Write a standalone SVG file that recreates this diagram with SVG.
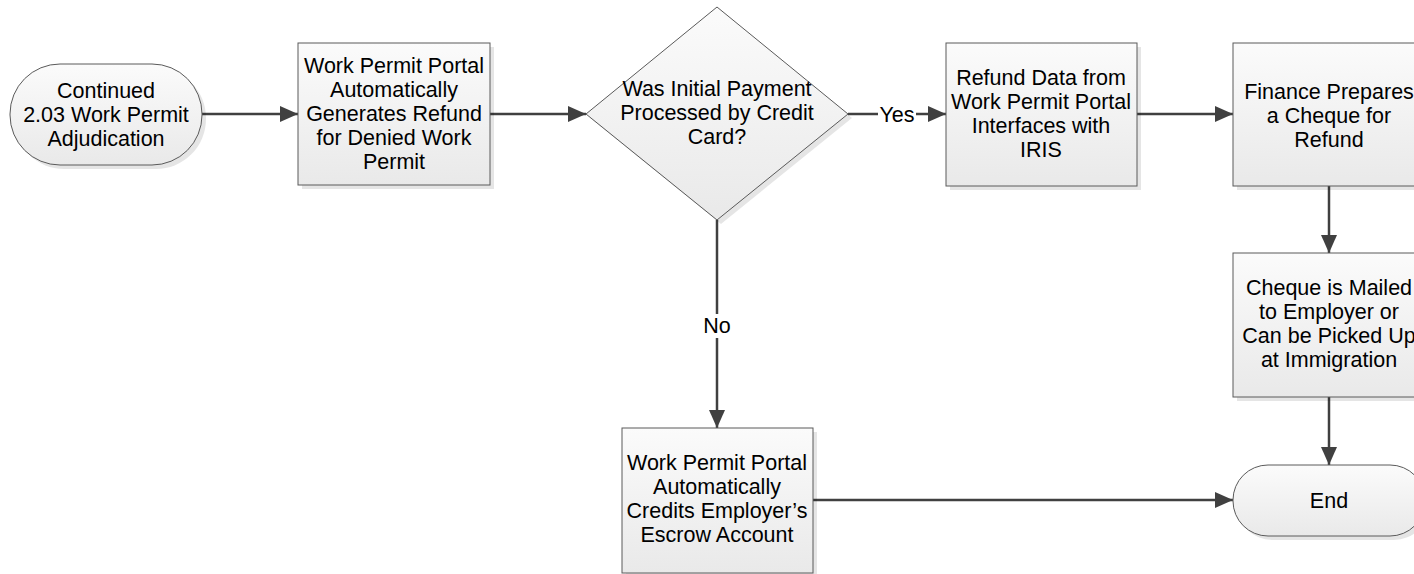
<svg xmlns="http://www.w3.org/2000/svg" width="1414" height="574" viewBox="0 0 1414 574">
<style>
.shape{stroke:#5a5a5a;stroke-width:1;fill:url(#g)}
.shadow{fill:#000;opacity:0.1}
.t{font-family:"Liberation Sans",Arial,sans-serif;font-size:21.5px;fill:#000;text-anchor:middle}
.e{stroke:#404040;stroke-width:2.5;fill:none}
.lbl{fill:#fff}
</style>
<defs>
<linearGradient id="g" x1="0" y1="0" x2="0" y2="1">
<stop offset="0" stop-color="#fbfbfb"/>
<stop offset="1" stop-color="#e9e9e9"/>
</linearGradient>
<marker id="a" viewBox="0 0 18 16" refX="18" refY="8" markerWidth="18" markerHeight="16" markerUnits="userSpaceOnUse" orient="auto">
<path d="M0,0 L18,8 L0,16 Z" fill="#404040"/>
</marker>
</defs>

<g id="connectors">
<path class="e" d="M202,114 H298" marker-end="url(#a)"/>
<path class="e" d="M490,114 H586" marker-end="url(#a)"/>
<path class="e" d="M848,114 H946" marker-end="url(#a)"/>
<path class="e" d="M1137,114 H1233" marker-end="url(#a)"/>
<path class="e" d="M1329,186 V253" marker-end="url(#a)"/>
<path class="e" d="M1329,397 V465" marker-end="url(#a)"/>
<path class="e" d="M717,220 V428" marker-end="url(#a)"/>
<path class="e" d="M813,500 H1233" marker-end="url(#a)"/>
<rect class="lbl" x="878" y="103" width="38" height="22"/>
<text class="t" x="897" y="122">Yes</text>
<rect class="lbl" x="702" y="314" width="30" height="24"/>
<text class="t" x="717" y="333">No</text>
</g>

<g id="start">
<rect class="shadow" x="14" y="68" width="192" height="101" rx="50"/>
<rect class="shape" x="10" y="64" width="192" height="101" rx="50"/>
<text class="t" x="106" y="98">Continued</text>
<text class="t" x="106" y="122">2.03 Work Permit</text>
<text class="t" x="106" y="146">Adjudication</text>
</g>

<g id="generate">
<rect class="shadow" x="302" y="47" width="192" height="142"/>
<rect class="shape" x="298" y="43" width="192" height="142"/>
<text class="t" x="394" y="73">Work Permit Portal</text>
<text class="t" x="394" y="97">Automatically</text>
<text class="t" x="394" y="121">Generates Refund</text>
<text class="t" x="394" y="145">for Denied Work</text>
<text class="t" x="394" y="169">Permit</text>
</g>

<g id="decision">
<path class="shadow" d="M721,11 L852,118 L721,224 L590,118 Z"/>
<path class="shape" d="M717,7 L848,114 L717,220 L586,114 Z"/>
<text class="t" x="717" y="96">Was Initial Payment</text>
<text class="t" x="717" y="120">Processed by Credit</text>
<text class="t" x="717" y="144">Card?</text>
</g>

<g id="iris">
<rect class="shadow" x="950" y="47" width="191" height="143"/>
<rect class="shape" x="946" y="43" width="191" height="143"/>
<text class="t" x="1041" y="85">Refund Data from</text>
<text class="t" x="1041" y="109">Work Permit Portal</text>
<text class="t" x="1041" y="133">Interfaces with</text>
<text class="t" x="1041" y="157">IRIS</text>
</g>

<g id="finance">
<rect class="shadow" x="1237" y="47" width="192" height="143"/>
<rect class="shape" x="1233" y="43" width="192" height="143"/>
<text class="t" x="1329" y="99">Finance Prepares</text>
<text class="t" x="1329" y="123">a Cheque for</text>
<text class="t" x="1329" y="147">Refund</text>
</g>

<g id="cheque">
<rect class="shadow" x="1237" y="257" width="192" height="144"/>
<rect class="shape" x="1233" y="253" width="192" height="144"/>
<text class="t" x="1329" y="295">Cheque is Mailed</text>
<text class="t" x="1329" y="319">to Employer or</text>
<text class="t" x="1329" y="343">Can be Picked Up</text>
<text class="t" x="1329" y="367">at Immigration</text>
</g>

<g id="end">
<rect class="shadow" x="1237" y="469" width="192" height="71" rx="35"/>
<rect class="shape" x="1233" y="465" width="192" height="71" rx="35"/>
<text class="t" x="1329" y="508">End</text>
</g>

<g id="escrow">
<rect class="shadow" x="626" y="432" width="191" height="145"/>
<rect class="shape" x="622" y="428" width="191" height="145"/>
<text class="t" x="717" y="470">Work Permit Portal</text>
<text class="t" x="717" y="494">Automatically</text>
<text class="t" x="717" y="518">Credits Employer’s</text>
<text class="t" x="717" y="542">Escrow Account</text>
</g>
</svg>
